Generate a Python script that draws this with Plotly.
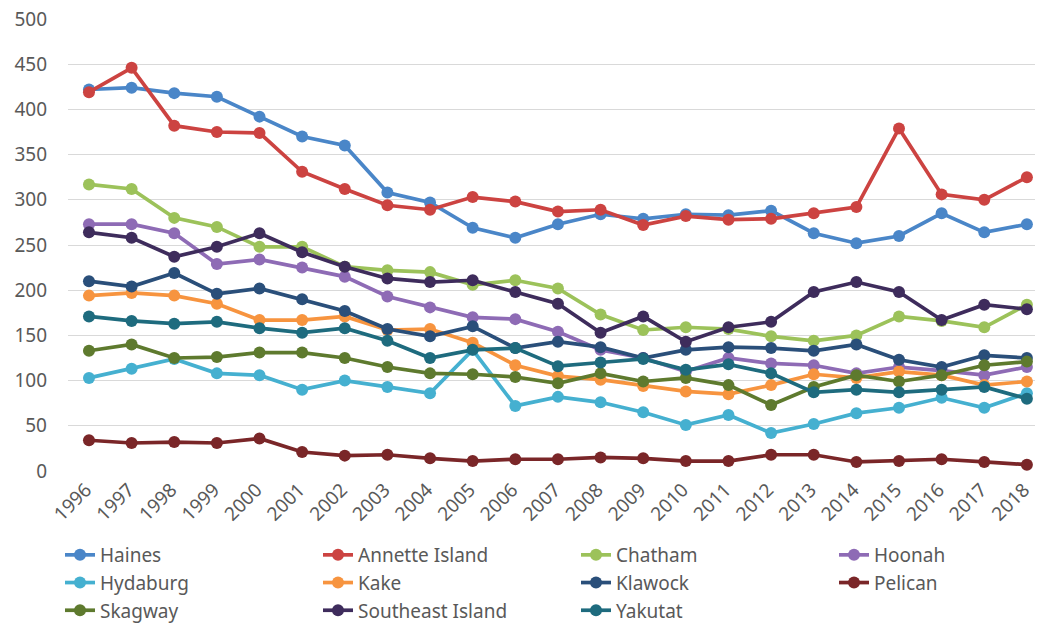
import plotly.graph_objects as go

years = list(range(1996, 2019))
year_labels = [str(y) for y in years]

haines = [422, 424, 418, 414, 392, 370, 360, 308, 297, 269, 258, 273, 284, 279, 284, 283, 288, 263, 252, 260, 285, 264, 273]
annette_island = [419, 446, 382, 375, 374, 331, 312, 294, 289, 303, 298, 287, 289, 272, 282, 278, 279, 285, 292, 379, 306, 300, 325]
chatham = [317, 312, 280, 270, 248, 248, 226, 222, 220, 206, 211, 202, 173, 156, 159, 157, 149, 144, 150, 171, 166, 159, 184]
hoonah = [273, 273, 263, 229, 234, 225, 215, 193, 181, 170, 168, 154, 134, 125, 110, 125, 119, 117, 108, 115, 111, 106, 115]
hydaburg = [103, 113, 124, 108, 106, 90, 100, 93, 86, 134, 72, 82, 76, 65, 51, 62, 42, 52, 64, 70, 81, 70, 86]
kake = [194, 197, 194, 185, 167, 167, 171, 156, 157, 142, 117, 105, 101, 94, 88, 85, 95, 107, 103, 110, 106, 95, 99]
klawock = [210, 204, 219, 196, 202, 190, 177, 157, 149, 160, 136, 143, 137, 125, 134, 137, 136, 133, 140, 123, 115, 128, 125]
pelican = [34, 31, 32, 31, 36, 21, 17, 18, 14, 11, 13, 13, 15, 14, 11, 11, 18, 18, 10, 11, 13, 10, 7]
skagway = [133, 140, 125, 126, 131, 131, 125, 115, 108, 107, 104, 97, 108, 99, 103, 95, 73, 93, 106, 99, 106, 117, 121]
southeast_island = [264, 258, 237, 248, 263, 242, 226, 213, 209, 211, 198, 185, 153, 171, 143, 159, 165, 198, 209, 198, 167, 184, 179]
yakutat = [171, 166, 163, 165, 158, 153, 158, 144, 125, 134, 136, 116, 120, 124, 112, 118, 108, 87, 90, 87, 90, 93, 80]

series_names = ["Haines", "Annette Island", "Chatham", "Hoonah", "Hydaburg", "Kake",
                "Klawock", "Pelican", "Skagway", "Southeast Island", "Yakutat"]
series_values = [haines, annette_island, chatham, hoonah, hydaburg, kake,
                 klawock, pelican, skagway, southeast_island, yakutat]
series_colors = ["#4A86C8", "#CC4341", "#9CC25A", "#8E6BB5", "#45B0D0", "#F7943F",
                 "#2A4F7A", "#7A2628", "#5E7A2E", "#3E2C5C", "#1E6B7E"]

y_ticks = [0, 50, 100, 150, 200, 250, 300, 350, 400, 450, 500]

font_family = "Noto Sans, sans-serif"
txt_color = "#595959"

fig = go.Figure()
for name, vals, col in zip(series_names, series_values, series_colors):
    fig.add_trace(go.Scatter(
        x=years, y=vals, name=name, mode="lines+markers",
        line=dict(color=col, width=3.7),
        marker=dict(color=col, size=12),
        cliponaxis=False,
    ))

fig.update_layout(
    width=1039, height=624,
    margin=dict(l=68, r=4, t=19, b=153, autoexpand=False),
    paper_bgcolor="white", plot_bgcolor="white",
    font=dict(family=font_family, color=txt_color, size=19),
    showlegend=True,
    legend=dict(
        orientation="h", x=-0.00827, xanchor="left", y=-0.1438, yanchor="top",
        entrywidth=213, entrywidthmode="pixels",
        font=dict(family=font_family, color=txt_color, size=19),
        tracegroupgap=0, itemwidth=30,
    ),
    xaxis=dict(
        range=[1995.508, 2018.19],
        tickmode="array", tickvals=years, ticktext=year_labels,
        tickangle=-45, showgrid=False, zeroline=False, showline=False,
        ticks="", tickfont=dict(size=19, color=txt_color),
        automargin=False, ticklabelshift=-3, ticklabelstandoff=3,
    ),
    yaxis=dict(
        range=[0, 500], tickmode="array", tickvals=y_ticks,
        showgrid=True, gridcolor="#D9D9D9", gridwidth=1,
        zeroline=False, showline=False, ticks="",
        tickfont=dict(size=19, color=txt_color), ticklabelstandoff=20,
        automargin=False,
    ),
)

fig.write_html(
    "out.html",
    config={"displayModeBar": False},
    post_script="document.body.style.margin='0';document.body.style.overflow='hidden';",
)
